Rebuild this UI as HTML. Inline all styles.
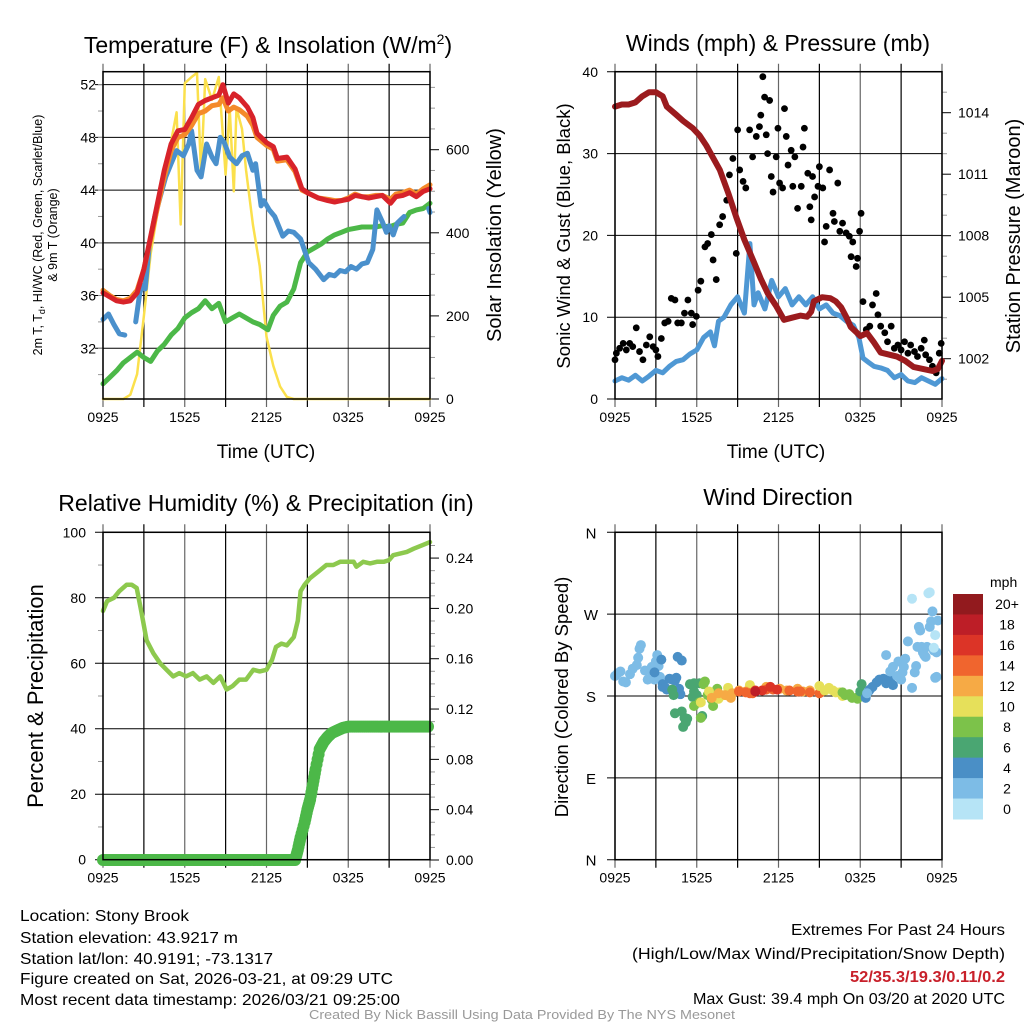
<!DOCTYPE html>
<html><head><meta charset="utf-8">
<style>
html,body{margin:0;padding:0;background:#fff;}
svg{display:block;font-family:"Liberation Sans",sans-serif;}
</style></head>
<body>
<svg id="c" width="1024" height="1024" viewBox="0 0 1024 1024">
<g font-size="23" text-anchor="middle" fill="#000">
<text x="268" y="53">Temperature (F) &amp; Insolation (W/m<tspan font-size="14" dy="-9">2</tspan><tspan dy="9">)</tspan></text>
<text x="778" y="51">Winds (mph) &amp; Pressure (mb)</text>
<text x="266" y="511">Relative Humidity (%) &amp; Precipitation (in)</text>
<text x="778" y="505">Wind Direction</text>
</g>
<g fill="#000" text-anchor="middle">
<text x="266" y="458" font-size="19">Time (UTC)</text>
<text x="776" y="458" font-size="19">Time (UTC)</text>
<text transform="translate(42,235) rotate(-90)" font-size="12.5">2m T, T<tspan font-size="9" dy="3">d</tspan><tspan dy="-3">, HI/WC (Red, Green, Scarlet/Blue)</tspan></text>
<text transform="translate(57,235) rotate(-90)" font-size="12.5">&amp; 9m T (Orange)</text>
<text transform="translate(501,235) rotate(-90)" font-size="20">Solar Insolation (Yellow)</text>
<text transform="translate(570,236) rotate(-90)" font-size="18.5">Sonic Wind &amp; Gust (Blue, Black)</text>
<text transform="translate(1020,236) rotate(-90)" font-size="20">Station Pressure (Maroon)</text>
<text transform="translate(43,696) rotate(-90)" font-size="22">Percent &amp; Precipitation</text>
<text transform="translate(568,697) rotate(-90)" font-size="18.5">Direction (Colored By Speed)</text>
</g>
<g id="layer"></g>
<g font-size="16" fill="#000">
<text x="20" y="921" textLength="169" lengthAdjust="spacingAndGlyphs">Location: Stony Brook</text>
<text x="20" y="943" textLength="218" lengthAdjust="spacingAndGlyphs">Station elevation: 43.9217 m</text>
<text x="20" y="964" textLength="253" lengthAdjust="spacingAndGlyphs">Station lat/lon: 40.9191; -73.1317</text>
<text x="20" y="984" textLength="373" lengthAdjust="spacingAndGlyphs">Figure created on Sat, 2026-03-21, at 09:29 UTC</text>
<text x="20" y="1005" textLength="380" lengthAdjust="spacingAndGlyphs">Most recent data timestamp: 2026/03/21 09:25:00</text>
<text x="791" y="935" textLength="214" lengthAdjust="spacingAndGlyphs">Extremes For Past 24 Hours</text>
<text x="632" y="959" textLength="373" lengthAdjust="spacingAndGlyphs">(High/Low/Max Wind/Precipitation/Snow Depth)</text>
<text x="850" y="982" textLength="155" lengthAdjust="spacingAndGlyphs" fill="#c8202a" font-weight="bold">52/35.3/19.3/0.11/0.2</text>
<text x="693" y="1004" textLength="312" lengthAdjust="spacingAndGlyphs">Max Gust: 39.4 mph On 03/20 at 2020 UTC</text>
<text x="309" y="1019" textLength="426" lengthAdjust="spacingAndGlyphs" font-size="13" fill="#999">Created By Nick Bassill Using Data Provided By The NYS Mesonet</text>
</g>
</svg>
<script>
// ---------- data ----------
const xTickLabels = ["0925","1525","2125","0325","0925"];
const tempTicks = [32,36,40,44,48,52];
const solarTicks = [0,200,400,600];
const windTicks = [0,10,20,30,40];
const presTicks = [1002,1005,1008,1011,1014];
const rhTicks = [0,20,40,60,80,100];
const precipTicks = [0.00,0.04,0.08,0.12,0.16,0.20,0.24];
const dirTicks = ["N","E","S","W","N"];
const dirTickDeg = [0,90,180,270,360];
const speedBinLabels = ["0","2","4","6","8","10","12","14","16","18","20+"];
const speedBinColors = ["#b6e4f6","#7dbce6","#4a8fc6","#4aa672","#7cc24a","#e6e05a","#f6aa45","#f0652e","#dc3427","#bd1e27","#921a1e"];

const tempT = [0,0.5,1,1.5,2,2.5,3,3.5,4,4.5,5,5.5,6,6.5,7,7.5,8,8.5,8.8,9.2,9.6,10,10.6,11,11.3,12,12.5,12.8,13.5,14.1,14.6,15,15.8,16.5,17,17.5,18,18.5,19,19.5,20,20.5,21.1,21.5,22,22.5,23,23.5,24];
const tempRed = [36.2,35.9,35.6,35.5,35.6,36.2,38.0,40.5,43.0,45.5,47.5,48.5,48.6,49.5,50.5,50.8,51.0,51.2,52.0,50.6,51.3,51.0,50.3,49.5,48.3,47.6,47.3,46.4,46.5,45.6,44.1,43.8,43.4,43.2,43.1,43.2,43.3,43.6,43.5,43.4,43.5,43.6,43.0,43.5,43.6,43.8,43.5,43.9,44.1];
const temp9m = [36.4,36.0,35.7,35.6,35.8,36.4,38.0,40.3,42.7,45.0,47.0,48.0,48.2,48.9,49.8,50.0,50.4,50.5,51.0,50.0,50.3,50.1,49.6,48.9,48.0,47.4,47.1,46.2,46.3,45.4,44.0,43.8,43.4,43.3,43.2,43.2,43.4,43.7,43.5,43.5,43.6,43.6,43.3,43.7,43.8,44.0,43.7,44.1,44.4];
const chillT = [0,0.4,0.8,1.2,1.6,null,2.4,2.7,2.9,3.1,3.4,3.8,4.2,4.6,5.0,5.4,5.9,6.3,6.5,6.9,7.2,7.6,8.0,8.3,8.6,8.9,9.3,9.8,10.2,10.6,11.0,11.2,11.6,11.8,12.2,12.6,13.2,13.6,14.0,14.5,15.1,15.6,16.2,16.6,17.0,17.4,17.8,18.2,18.6,19.0,19.4,19.8,20.1,20.5,20.8,21.0,21.3,21.6,21.9,22.1,null,23.9,24];
const chillV = [34.2,34.6,33.8,33.1,33.0,null,34.0,36.2,36.8,36.5,39.8,42.0,43.5,45.0,46.0,47.0,46.6,47.5,48.5,45.5,45.0,47.5,46.5,46.0,48.0,47.6,46.5,46.0,46.6,46.8,45.5,46.0,42.8,43.2,42.5,42.0,40.5,40.9,40.8,40.3,38.5,38.0,37.2,37.6,37.5,37.9,37.8,38.2,38.0,38.4,38.5,39.5,42.5,41.6,40.8,41.3,40.6,41.5,41.8,42.0,null,42.6,42.3];
const dewT = [0,0.5,1,1.5,2,2.5,3,3.5,4,4.5,5,5.5,6,6.5,7,7.5,8,8.5,9,9.5,10,10.5,11,11.5,12.1,12.5,13,13.5,14,14.5,15,15.5,16,16.5,17,17.5,18,18.5,19,19.5,20,20.5,21,21.5,22,22.5,23,23.5,24];
const dewV = [29.3,29.8,30.3,30.9,31.3,31.7,31.3,31.0,31.8,32.3,33.0,33.5,34.3,34.7,35.0,35.6,35.0,35.4,34.0,34.3,34.6,34.3,34.0,33.8,33.4,34.5,35.2,35.5,36.5,38.5,39.3,39.6,39.9,40.3,40.6,40.8,41.0,41.1,41.2,41.2,41.2,41.3,41.2,41.4,41.5,42.3,42.5,42.6,43.0];
const solarT = [0,1.5,2,2.5,3,3.5,4,4.5,5,5.4,5.7,6.0,6.5,6.9,7.2,7.5,8.0,8.5,9.0,9.3,9.6,9.8,10.2,10.5,11,11.5,12,12.5,13,13.5,14,24];
const solarV = [0,0,10,60,200,350,450,560,620,690,420,760,775,785,540,770,720,775,540,700,500,700,650,550,420,320,150,80,30,5,0,0];

const windT = [0,0.5,1,1.5,2,2.5,3,3.5,4,4.5,5,5.5,6,6.5,7,7.3,7.6,8,8.5,9,9.5,9.9,10.2,10.5,11,11.5,12,12.5,13,13.5,14,14.5,15,15.5,16,16.5,17,17.5,17.9,18.2,18.6,19,19.5,20,20.5,21,21.5,22,22.5,23,23.5,24];
const windV = [2.2,2.6,2.3,2.9,2.2,2.8,3.5,3.2,4.0,4.6,4.8,5.5,6.0,7.5,8.2,6.5,9.5,10.0,11.5,12.5,10.5,19.0,11.5,13.0,11.0,14.5,12.5,13.5,11.5,12.5,11.5,12.5,11.0,11.5,10.5,10.2,9.5,9.0,7.5,5.0,4.5,4.0,3.8,3.5,2.6,3.0,2.2,2.0,2.6,2.2,1.8,2.5];
const gustT = [0,0.1,0.34,0.6,0.83,1.08,1.3,1.56,1.8,2.05,2.3,2.55,2.8,3.0,3.15,3.4,3.65,3.9,4.13,4.4,4.6,4.87,5.1,5.35,5.6,5.7,5.97,6.1,6.3,6.6,6.8,7.07,7.2,7.43,7.68,7.9,8.2,8.4,8.65,8.9,9.0,9.15,9.4,9.6,9.88,10.1,10.37,10.6,10.7,10.85,10.98,11.1,11.2,11.35,11.47,11.6,11.83,11.96,12.08,12.3,12.44,12.57,12.7,12.93,13.05,13.2,13.4,13.67,13.8,13.9,14.15,14.3,14.4,14.5,14.65,14.9,15.0,15.25,15.38,15.5,15.75,16.0,16.1,16.35,16.5,16.7,16.97,17.2,17.33,17.45,17.7,17.8,17.95,18.06,18.2,18.44,18.7,18.9,19.17,19.3,19.5,19.8,20.0,20.27,20.5,20.76,21.0,21.25,21.5,21.7,21.98,22.2,22.47,22.7,22.8,23.08,23.3,23.57,23.8,23.94];
const gustV = [4.8,5.6,6.2,6.8,6.0,6.8,6.4,8.7,5.8,4.8,6.6,7.6,6.4,6.0,5.2,7.4,9.3,9.5,12.3,12.1,9.3,9.3,10.5,12.1,10.5,9.1,10.1,13.3,14.4,18.6,19.0,20.1,17.0,14.6,21.3,22.3,24.3,27.4,29.4,17.8,32.9,28.0,26.6,25.8,32.9,29.6,32.1,33.3,34.7,39.4,36.9,32.3,30.0,36.5,27.2,25.3,29.6,33.1,26.4,25.8,35.5,32.1,28.6,30.4,26.0,29.6,23.3,26.0,30.8,33.1,27.6,23.5,21.9,27.2,24.7,26.0,28.4,25.8,19.2,21.1,28.0,22.7,21.7,26.4,20.5,21.5,20.3,19.9,17.4,19.2,16.2,17.2,20.5,22.7,11.9,8.5,8.9,11.5,12.9,10.3,8.9,8.1,7.0,8.9,6.2,6.6,6.0,7.0,5.6,6.6,5.8,5.2,6.2,7.2,5.4,4.8,4.0,3.2,5.6,6.8];
const presT = [0,0.5,1,1.5,2,2.5,3,3.5,3.8,4.5,5.0,5.7,6.2,6.7,7.2,7.7,8.3,8.9,9.5,10.2,10.7,11.2,11.8,12.4,13.0,13.6,14.1,14.4,14.6,15.2,15.8,16.2,16.6,17.0,17.3,17.7,18.0,18.5,19.0,19.5,20.1,20.7,21.3,21.9,22.6,23.3,23.7,24];
const presV = [1014.3,1014.4,1014.4,1014.5,1014.8,1015.0,1015.0,1014.8,1014.3,1013.9,1013.6,1013.25,1012.9,1012.4,1011.8,1011.2,1010.1,1008.9,1007.8,1006.7,1005.9,1005.2,1004.6,1003.9,1004.0,1004.1,1004.05,1004.3,1004.8,1005.0,1004.95,1004.8,1004.5,1004.0,1003.55,1003.3,1003.1,1003.25,1002.8,1002.3,1002.2,1002.1,1001.9,1001.6,1001.5,1001.4,1001.5,1001.9];

const rhT = [0,0.3,0.8,1.2,1.74,2.1,2.47,2.8,3.2,3.7,4.2,4.67,5.15,5.6,6.1,6.6,7.1,7.6,8.1,8.6,9.07,9.5,10.0,10.5,11.03,11.5,12.0,12.4,12.7,13.1,13.5,14.0,14.3,14.5,14.8,15.2,15.8,16.4,16.9,17.4,17.9,18.4,18.6,19.1,19.6,20.1,20.6,21.0,21.3,21.8,22.3,22.8,23.4,24];
const rhV = [76,79,80,82,84,84,83,76,67,63,60,58,56,57,56,57,55,56,54,56,52,53,55,55,58,57.5,58,61,65,66,65.5,68,73,82,84,86,88,90,90,91,91,91,89.5,91,90.5,91,91,91.5,93,93.5,94,95,96,97];
const precipT = [0,14.1,14.3,14.5,14.8,15.0,15.2,15.4,15.6,15.9,16.2,16.5,16.8,17.2,17.6,18.0,24];
const precipV = [0,0,0.008,0.018,0.03,0.04,0.048,0.06,0.072,0.088,0.094,0.098,0.101,0.103,0.105,0.106,0.106];

// wind direction: time (h), direction (deg), speed (mph)
const dirT = [0,0.2,0.4,0.6,0.8,1.1,1.3,1.6,1.7,1.8,1.9,2.2,2.4,2.6,2.7,2.9,3.0,3.1,3.2,3.3,2.9,3.4,3.5,3.5,3.7,3.8,4.0,4.2,4.4,4.5,4.6,4.7,4.8,4.9,4.3,5.7,5.8,6.4,4.2,4.4,4.9,5.0,5.1,5.2,5.3,5.5,5.8,6.0,6.2,5.8,6.2,6.3,6.5,6.6,6.8,7.2,7.1,7.5,7.3,6.3,6.9,7.6,8.0,8.3,9.9,7.1,7.6,8.1,8.5,8.6,9.1,9.6,11.1,12.1,12.6,13.4,13.8,14.3,15.1,9.1,9.6,9.9,10.1,11.1,11.6,12.8,13.4,13.6,14.3,15.0,10.3,10.8,11.4,11.9,10.3,15.0,15.4,15.7,16.0,16.2,16.5,16.7,16.7,16.9,17.2,17.4,17.7,17.8,18.0,18.1,18.4,18.6,18.7,18.9,19.2,19.4,19.7,19.9,20.2,20.4,18.5,19.9,20.2,20.4,20.7,20.8,21.0,21.1,21.2,21.3,21.5,21.8,22.0,22.1,22.2,22.3,22.4,22.5,22.6,22.7,22.8,22.9,23.1,23.2,23.4,23.5,23.6,23.6,23.7,23.3,21.8,23.0,23.1,23.4,23.5];
const dirV = [202,205,207,196,195,204,210,214,222,232,236,208,198,208,212,198,218,225,213,201,206,220,190,193,189,187,199,198,197,200,223,188,182,219,181,179,185,158,187,161,163,146,156,151,155,193,194,181,194,169,173,156,193,196,181,169,176,188,184,173,185,177,181,189,192,178,183,181,178,183,186,185,190,188,186,188,185,186,184,185,184,183,183,187,187,186,185,185,184,183,186,186,190,187,185,191,186,189,186,184,184,180,184,181,182,178,178,177,185,193,178,185,187,190,195,198,199,194,198,192,183,225,207,212,202,218,198,206,212,221,240,189,206,213,234,256,252,234,228,225,223,234,256,262,230,200,228,201,263,273,287,293,294,233,247,226,222,180,224];
const dirS = [3,3,3,3,3,3,3,3,3,3,3,3,3,3,3,3,3,3,3,3,5,5,5,5,5,5,5,5,5,5,5,5,5,5,7,7,7,7,7,7,7,7,7,7,7,7,7,7,7,9,9,9,9,9,9,9,9,9,9,11,11,11,11,11,11,13,13,13,13,13,13,13,13,13,13,13,13,13,13,15,15,15,15,15,15,15,15,15,15,15,17,17,17,17,19,11,11,11,11,11,11,11,9,9,9,9,9,9,7,7,5,5,5,5,5,5,5,5,5,5,3,3,3,3,3,3,3,3,3,3,3,3,3,3,3,3,3,3,3,3,3,3,3,3,3,3,3,3,3,3,1,1,1,1,1];

// ---------- drawing ----------
const NS = "http://www.w3.org/2000/svg";
const layer = document.getElementById('layer');
function mk(tag, attrs, parent){ const e=document.createElementNS(NS,tag); for(const k in attrs) e.setAttribute(k,attrs[k]); (parent||layer).appendChild(e); return e; }

function panel(name, x0, x1, yT, yB){
  const g = mk('g',{});
  
  
  return {g, x0, x1, yT, yB, tx: t => x0 + t/24*(x1-x0)};
}
function pathFrom(P, ts, vs, ys){
  let d='', pen=false;
  for(let i=0;i<ts.length;i++){
    if(ts[i]===null||vs[i]===null||ts[i]===undefined||vs[i]===undefined){pen=false;continue;}
    d += (pen?'L':'M') + P.tx(ts[i]).toFixed(1)+','+ys(vs[i]).toFixed(1);
    pen=true;
  }
  return d;
}
function grid(P, hVals, ys){
  for(let h=0;h<=24;h+=3){
    const x=P.tx(h);
    const l=mk('line',{x1:x,x2:x,y1:P.yT-8,y2:P.yB+8,stroke:(h%6===3?'#000':'#666'),'stroke-width':1.2},P.g);
    
    
  }
  hVals.forEach(v=>{
    const y=ys(v);
    const l=mk('line',{x1:P.x0-8,x2:P.x1,y1:y,y2:y,stroke:'#000','stroke-width':1},P.g);
    
    
  });
  xTickLabels.forEach((lab,i)=>{
    const t=mk('text',{x:P.tx(i*6),y:P.yB+23,'font-size':14,'text-anchor':'middle'},P.g);
    t.textContent=lab;
    
    
  });
}
function frame(P){
  const r=mk('rect',{x:P.x0,y:P.yT,width:P.x1-P.x0,height:P.yB-P.yT,fill:'none',stroke:'#000','stroke-width':1.5},P.g);
  
  
}
function leftLabels(P, vals, ys, fmt, xr){
  vals.forEach(v=>{
    const t=mk('text',{x:xr,y:ys(v)+5,'font-size':14,'text-anchor':'end'},P.g);
    t.textContent=fmt(v);
    
    
  });
}
function rightAxis(P, vals, ys, fmt, minor){
  vals.forEach(v=>{
    const y=ys(v);
    mk('line',{x1:P.x1,x2:P.x1+9,y1:y,y2:y,stroke:'#000','stroke-width':1},P.g);
    const t=mk('text',{x:P.x1+16,y:y+5,'font-size':14},P.g);
    t.textContent=fmt(v);
    
    
  });
  minor.forEach(v=>{const y=ys(v); if(y>=P.yT&&y<=P.yB) mk('line',{x1:P.x1,x2:P.x1+5,y1:y,y2:y,stroke:'#999','stroke-width':1},P.g);});
}
function line(P, name, ts, vs, ys, color, w){
  const p=mk('path',{d:pathFrom(P,ts,vs,ys),fill:'none',stroke:color,'stroke-width':w,'stroke-linejoin':'round','stroke-linecap':'round'},P.g);
  
  
}

// Panel 1
const P1 = panel('temperature-panel',103,430,71.7,399);
const yTemp = v => 399-(v-28.15)*13.18;
const ySolar = v => 399-v*0.4155;
grid(P1,tempTicks,yTemp);
leftLabels(P1,tempTicks,yTemp,v=>String(v),96);
for(let v=30;v<=52;v+=2) mk('line',{x1:P1.x0-5,x2:P1.x0,y1:yTemp(v),y2:yTemp(v),stroke:'#999'},P1.g);
rightAxis(P1,solarTicks,ySolar,v=>String(v),[50,100,150,250,300,350,450,500,550,650,700,750]);
line(P1,'solar-insolation-line',solarT,solarV,ySolar,'#fbe04c',2.5);
line(P1,'dewpoint-line',dewT,dewV,yTemp,'#4cb848',5);
line(P1,'wind-chill-line',chillT,chillV,yTemp,'#4a90cc',5);
line(P1,'temp-9m-line',tempT,temp9m,yTemp,'#f48a2a',5);
line(P1,'temp-2m-line',tempT,tempRed,yTemp,'#d8232a',5);
frame(P1);

// Panel 2
const P2 = panel('winds-panel',615,942,71.7,399);
const yWind = v => 399-v*8.18;
const yPres = v => 358.7-(v-1002)*20.5;
grid(P2,windTicks,yWind);
leftLabels(P2,windTicks,yWind,v=>String(v),598);
rightAxis(P2,presTicks,yPres,v=>String(v),[1001,1003,1004,1006,1007,1009,1010,1012,1013,1015,1016]);
line(P2,'sonic-wind-line',windT,windV,yWind,'#4f98d4',5);
gustT.forEach((t,i)=>{
  if(gustV[i]===undefined) return;
  const c=mk('circle',{cx:P2.tx(t),cy:yWind(gustV[i]),r:3.4,fill:'#000'},P2.g);
  
  
});
line(P2,'station-pressure-line',presT,presV,yPres,'#9b1b1e',6);
frame(P2);

// Panel 3
const P3 = panel('humidity-panel',103,430,532.3,859.7);
const yRH = v => 859.7-v*3.274;
const yPr = v => 860-v*1258;
grid(P3,rhTicks,yRH);
leftLabels(P3,rhTicks,yRH,v=>String(v),86);
for(let v=10;v<=90;v+=20) mk('line',{x1:P3.x0-5,x2:P3.x0,y1:yRH(v),y2:yRH(v),stroke:'#999'},P3.g);
rightAxis(P3,precipTicks,yPr,v=>v.toFixed(2),[0.01,0.02,0.03,0.05,0.06,0.07,0.09,0.10,0.11,0.13,0.14,0.15,0.17,0.18,0.19,0.21,0.22,0.23,0.25]);
line(P3,'relative-humidity-line',rhT,rhV,yRH,'#8dc94e',4.5);
for(let i=0;i<precipT.length-1;i++){
  const steps=Math.max(4,Math.round((P3.tx(precipT[i+1])-P3.tx(precipT[i]))/2));
  for(let s=0;s<steps;s++){
    const f=s/steps, t=precipT[i]+f*(precipT[i+1]-precipT[i]), v=precipV[i]+f*(precipV[i+1]-precipV[i]);
    const c=mk('circle',{cx:P3.tx(t),cy:yPr(v),r:6,fill:'#4cb848'},P3.g);
    
    
  }
}
frame(P3);

// Panel 4
const P4 = panel('wind-direction-panel',615,942,532.3,859.7);
const yDir = d => 859.7-d/360*327.4;
grid(P4,dirTickDeg,yDir);
dirTicks.forEach((lab,i)=>{
  const t=mk('text',{x:591,y:yDir(dirTickDeg[i])+6,'font-size':15,'text-anchor':'middle'},P4.g);
  t.textContent=lab;
  
  
});
dirT.forEach((t,i)=>{
  if(dirV[i]===undefined||dirS[i]===undefined) return;
  const bin=Math.min(10,Math.floor(dirS[i]/2));
  const c=mk('circle',{cx:P4.tx(t),cy:yDir(dirV[i]),r:5,fill:speedBinColors[bin]},P4.g);
  
  
});
frame(P4);

// Legend
const lg = mk('g',{});


const lt=mk('text',{x:990,y:587,'font-size':14},lg); lt.textContent='mph';


const nBins=speedBinLabels.length, legendTop=594, binH=(819-594)/nBins;
for(let k=0;k<nBins;k++){
  const idx=nBins-1-k;
  const r=mk('rect',{x:953,y:legendTop+k*binH,width:30,height:binH+0.5,fill:speedBinColors[idx]},lg);
  
  
  const t=mk('text',{x:1007,y:legendTop+k*binH+binH/2+5,'font-size':14,'text-anchor':'middle'},lg);
  t.textContent=speedBinLabels[idx];
  
  
}
</script>
</body></html>
